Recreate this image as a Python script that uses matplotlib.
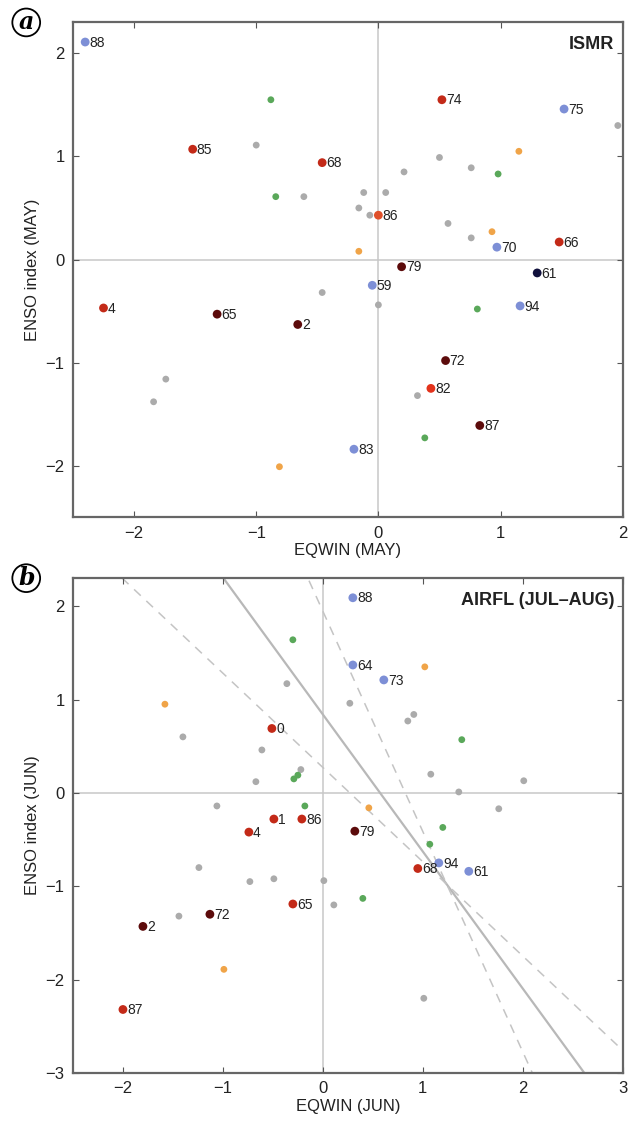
import numpy as np
import matplotlib.pyplot as plt

plt.rcParams['font.family'] = ['Liberation Sans', 'DejaVu Sans']

# ---- panel a: EQWIN (MAY) vs ENSO index (MAY), ISMR classes
a_years = ['88', '85', '68', '74', '75', '86', '70', '66', '79', '61',
           '59', '94', '72', '82', '87', '83', '4', '65', '2']
a_x = [-2.40, -1.52, -0.46, 0.52, 1.52, 0.00, 0.97, 1.48, 0.19, 1.30,
       -0.05, 1.16, 0.55, 0.43, 0.83, -0.20, -2.25, -1.32, -0.66]
a_y = [2.11, 1.07, 0.94, 1.55, 1.46, 0.43, 0.12, 0.17, -0.07, -0.13,
       -0.25, -0.45, -0.98, -1.25, -1.61, -1.84, -0.47, -0.53, -0.63]
a_cls = ['B', 'R', 'R', 'R', 'B', 'O', 'B', 'R', 'D', 'N',
         'B', 'B', 'D', 'L', 'D', 'B', 'R', 'D', 'D']

a_gray_x = [-1.00, -0.61, 0.21, 0.50, 0.76, -0.12, 0.06, -0.16, -0.07, 0.57,
            0.76, 1.96, -0.46, 0.00, 0.32, -1.74, -1.84]
a_gray_y = [1.11, 0.61, 0.85, 0.99, 0.89, 0.65, 0.65, 0.50, 0.43, 0.35,
            0.21, 1.30, -0.32, -0.44, -1.32, -1.16, -1.38]
a_green_x = [-0.88, -0.84, 0.98, 0.81, 0.38]
a_green_y = [1.55, 0.61, 0.83, -0.48, -1.73]
a_orange_x = [1.15, 0.93, -0.16, -0.81]
a_orange_y = [1.05, 0.27, 0.08, -2.01]

# ---- panel b: EQWIN (JUN) vs ENSO index (JUN), AIRFL (JUL-AUG) classes
b_years = ['88', '64', '73', '0', '1', '86', '4', '79', '65', '72',
           '2', '87', '68', '94', '61']
b_x = [0.30, 0.30, 0.61, -0.51, -0.49, -0.21, -0.74, 0.32, -0.30, -1.13,
       -1.80, -2.00, 0.95, 1.16, 1.46]
b_y = [2.09, 1.37, 1.21, 0.69, -0.28, -0.28, -0.42, -0.41, -1.19, -1.30,
       -1.43, -2.32, -0.81, -0.75, -0.84]
b_cls = ['B', 'B', 'B', 'R', 'R', 'R', 'R', 'D', 'R', 'D',
         'D', 'R', 'R', 'B', 'B']

b_gray_x = [-1.40, -0.36, -0.61, -0.67, -1.06, -0.22, 0.27, 0.91, 0.85, 1.08,
            2.01, 1.36, 1.76, -1.24, -0.73, -0.49, 0.01, -1.44, 0.11, 1.01]
b_gray_y = [0.60, 1.17, 0.46, 0.12, -0.14, 0.25, 0.96, 0.84, 0.77, 0.20,
            0.13, 0.01, -0.17, -0.80, -0.95, -0.92, -0.94, -1.32, -1.20, -2.20]
b_green_x = [-0.30, -0.29, -0.25, -0.18, 1.39, 1.07, 1.20, 0.40]
b_green_y = [1.64, 0.15, 0.19, -0.14, 0.57, -0.55, -0.37, -1.13]
b_orange_x = [-1.58, 1.02, 0.46, -0.99]
b_orange_y = [0.95, 1.35, -0.16, -1.89]

# lines in panel b: common crossing point and slopes
pivot = (1.24, -0.98)
fit_slope = -1.468
band_slopes = [-1.01, -2.36]

cls_colors = {'B': '#7d8fd6', 'R': '#c32a18', 'D': '#5c0b0b',
              'N': '#10103c', 'O': '#e0502a', 'L': '#e3331c'}
gray = '#ababab'
green = '#5aa85a'
orange = '#f0a448'

fig = plt.figure(figsize=(6.29, 11.22), dpi=100)
ax_a = fig.add_axes([0.116, 0.539, 0.874, 0.441])
ax_b = fig.add_axes([0.116, 0.0437, 0.874, 0.441])


def setup(ax, xlim, ylim, xticks, yticks, xlabel, ylabel, tag, title):
    ax.set_xlim(xlim)
    ax.set_ylim(ylim)
    ax.set_xticks(xticks)
    ax.set_yticks(yticks)
    ax.set_xticklabels(['\u2212%d' % -t if t < 0 else '%d' % t for t in xticks])
    ax.set_yticklabels(['\u2212%d' % -t if t < 0 else '%d' % t for t in yticks])
    ax.tick_params(direction='in', top=True, right=True, length=4,
                   labelsize=12, color='#555555', labelcolor='#222222', pad=6)
    for s in ax.spines.values():
        s.set_color('#666666')
        s.set_linewidth(1.6)
    ax.axhline(0, color='#c8c8c8', lw=1.1, zorder=0)
    ax.axvline(0, color='#c8c8c8', lw=1.1, zorder=0)
    ax.set_xlabel(xlabel, fontsize=12, labelpad=2, color='#222222')
    ax.set_ylabel(ylabel, fontsize=12, labelpad=4, color='#222222')
    ax.text(0.985, 0.955, title, transform=ax.transAxes, ha='right', va='center',
            fontsize=13, fontweight='bold', color='#222222')
    ax.text(-0.085, 1.0, tag, transform=ax.transAxes, ha='center', va='center',
            fontsize=17, fontweight='bold', style='italic', family='DejaVu Serif',
            bbox=dict(boxstyle='circle,pad=0.08', fc='white', ec='black', lw=1.3))


def draw_points(ax, gx, gy, grx, gry, ox, oy, years, x, y, cls):
    ax.scatter(gx, gy, s=24, color=gray, edgecolors='none', zorder=3)
    ax.scatter(grx, gry, s=24, color=green, edgecolors='none', zorder=3)
    ax.scatter(ox, oy, s=24, color=orange, edgecolors='none', zorder=3)
    for t, xi, yi, c in zip(years, x, y, cls):
        ax.scatter([xi], [yi], s=40, color=cls_colors[c], edgecolors='none', zorder=4)
        ax.annotate(t, (xi, yi), xytext=(3, -0.5), textcoords='offset points',
                    ha='left', va='center', fontsize=10, color='#222222', zorder=5)


setup(ax_a, (-2.5, 2.0), (-2.5, 2.3), [-2, -1, 0, 1, 2], [-2, -1, 0, 1, 2],
      'EQWIN (MAY)', 'ENSO index (MAY)', 'a', 'ISMR')
draw_points(ax_a, a_gray_x, a_gray_y, a_green_x, a_green_y, a_orange_x, a_orange_y,
            a_years, a_x, a_y, a_cls)

setup(ax_b, (-2.5, 3.0), (-3.0, 2.3), [-2, -1, 0, 1, 2, 3], [-3, -2, -1, 0, 1, 2],
      'EQWIN (JUN)', 'ENSO index (JUN)', 'b', 'AIRFL (JUL\u2013AUG)')
xx = np.linspace(-2.5, 3.0, 200)
ax_b.plot(xx, pivot[1] + fit_slope * (xx - pivot[0]), color='#b8b8b8', lw=1.6, zorder=1)
for sl in band_slopes:
    ax_b.plot(xx, pivot[1] + sl * (xx - pivot[0]), color='#c4c4c4', lw=1.1,
              ls=(0, (6, 5)), zorder=1)
draw_points(ax_b, b_gray_x, b_gray_y, b_green_x, b_green_y, b_orange_x, b_orange_y,
            b_years, b_x, b_y, b_cls)

fig.savefig('out.png', dpi=100)
